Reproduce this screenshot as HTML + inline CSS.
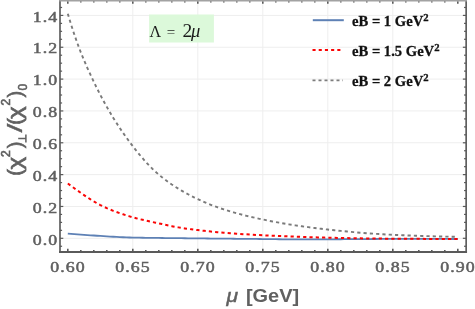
<!DOCTYPE html>
<html><head><meta charset="utf-8">
<style>
html,body{margin:0;padding:0;background:#fff;}
body{width:475px;height:309px;overflow:hidden;}
svg{display:block;will-change:transform;}
.tl text{font-family:"Liberation Serif",serif;font-size:15px;fill:#606060;stroke:#606060;stroke-width:0.5px;letter-spacing:0.9px;}
.lg text{font-family:"Liberation Serif",serif;font-weight:bold;font-size:15px;fill:#111;stroke:#111;stroke-width:0.3px;}
.ax{font-family:"Liberation Sans",sans-serif;font-weight:bold;fill:#606060;}
</style></head><body>
<svg width="475" height="309" viewBox="0 0 475 309">
<rect width="475" height="309" fill="#fff"/>
<g stroke="#eeeeee" stroke-width="1" fill="none"><line x1="132.80" y1="0.6" x2="132.80" y2="251.9"/><line x1="197.80" y1="0.6" x2="197.80" y2="251.9"/><line x1="262.80" y1="0.6" x2="262.80" y2="251.9"/><line x1="327.80" y1="0.6" x2="327.80" y2="251.9"/><line x1="392.80" y1="0.6" x2="392.80" y2="251.9"/><line x1="60.0" y1="238.30" x2="466.15" y2="238.30"/><line x1="60.0" y1="206.46" x2="466.15" y2="206.46"/><line x1="60.0" y1="174.62" x2="466.15" y2="174.62"/><line x1="60.0" y1="142.78" x2="466.15" y2="142.78"/><line x1="60.0" y1="110.94" x2="466.15" y2="110.94"/><line x1="60.0" y1="79.10" x2="466.15" y2="79.10"/><line x1="60.0" y1="47.26" x2="466.15" y2="47.26"/><line x1="60.0" y1="15.42" x2="466.15" y2="15.42"/></g>
<rect x="149.1" y="14.5" width="64.8" height="28" fill="#dcf9da"/>
<g font-family="Liberation Serif, serif" fill="#1a1a1a">
<text x="149.4" y="36.6" font-size="16px">Λ</text><text x="166.7" y="36.9" font-size="15px">=</text><text x="182.6" y="36.7" font-size="19.5px">2</text><text x="190.9" y="36.6" font-size="18.5px" font-style="italic">μ</text>
</g>
<g fill="none" stroke-linejoin="round">
<path d="M67.80,233.59 L71.05,233.86 L74.30,234.12 L77.55,234.37 L80.80,234.62 L84.05,234.86 L87.30,235.09 L90.55,235.31 L93.80,235.52 L97.05,235.73 L100.30,235.93 L103.55,236.13 L106.80,236.34 L110.05,236.54 L113.30,236.74 L116.55,236.92 L119.80,237.09 L123.05,237.24 L126.30,237.37 L129.55,237.48 L132.80,237.57 L136.05,237.64 L139.30,237.70 L142.55,237.76 L145.80,237.81 L149.05,237.85 L152.30,237.90 L155.55,237.94 L158.80,237.97 L162.05,238.01 L165.30,238.04 L168.55,238.08 L171.80,238.11 L175.05,238.15 L178.30,238.18 L181.55,238.22 L184.80,238.26 L188.05,238.30 L191.30,238.33 L194.55,238.37 L197.80,238.40 L201.05,238.44 L204.30,238.47 L207.55,238.50 L210.80,238.53 L214.05,238.57 L217.30,238.60 L220.55,238.63 L223.80,238.66 L227.05,238.69 L230.30,238.72 L233.55,238.75 L236.80,238.78 L240.05,238.81 L243.30,238.84 L246.55,238.87 L249.80,238.90 L253.05,238.93 L256.30,238.97 L259.55,239.00 L262.80,239.03 L266.05,239.07 L269.30,239.11 L272.55,239.16 L275.80,239.20 L279.05,239.25 L282.30,239.29 L285.55,239.32 L288.80,239.35 L292.05,239.37 L295.30,239.39 L298.55,239.40 L301.80,239.40 L305.05,239.40 L308.30,239.39 L311.55,239.38 L314.80,239.38 L318.05,239.36 L321.30,239.35 L324.55,239.34 L327.80,239.32 L331.05,239.30 L334.30,239.29 L337.55,239.27 L340.80,239.25 L344.05,239.22 L347.30,239.20 L350.55,239.18 L353.80,239.15 L357.05,239.13 L360.30,239.10 L363.55,239.08 L366.80,239.05 L370.05,239.03 L373.30,239.01 L376.55,238.99 L379.80,238.97 L383.05,238.95 L386.30,238.94 L389.55,238.92 L392.80,238.91 L396.05,238.91 L399.30,238.91 L402.55,238.91 L405.80,238.91 L409.05,238.91 L412.30,238.91 L415.55,238.91 L418.80,238.91 L422.05,238.91 L425.30,238.92 L428.55,238.92 L431.80,238.93 L435.05,238.93 L438.30,238.94 L441.55,238.95 L444.80,238.95 L448.05,238.96 L451.30,238.98 L454.55,238.99 L457.80,239.00" stroke="#5e81b5" stroke-width="1.8"/>
<path d="M67.80,183.54 L71.05,185.90 L74.30,188.22 L77.55,190.52 L80.80,192.82 L84.05,195.09 L87.30,197.29 L90.55,199.41 L93.80,201.42 L97.05,203.30 L100.30,205.05 L103.55,206.64 L106.80,208.12 L110.05,209.51 L113.30,210.81 L116.55,212.04 L119.80,213.21 L123.05,214.31 L126.30,215.35 L129.55,216.35 L132.80,217.30 L136.05,218.19 L139.30,219.03 L142.55,219.81 L145.80,220.56 L149.05,221.28 L152.30,221.99 L155.55,222.69 L158.80,223.38 L162.05,224.07 L165.30,224.78 L168.55,225.48 L171.80,226.15 L175.05,226.79 L178.30,227.37 L181.55,227.90 L184.80,228.40 L188.05,228.86 L191.30,229.29 L194.55,229.70 L197.80,230.10 L201.05,230.48 L204.30,230.84 L207.55,231.19 L210.80,231.52 L214.05,231.84 L217.30,232.14 L220.55,232.43 L223.80,232.71 L227.05,232.97 L230.30,233.23 L233.55,233.47 L236.80,233.71 L240.05,233.93 L243.30,234.15 L246.55,234.35 L249.80,234.55 L253.05,234.74 L256.30,234.93 L259.55,235.10 L262.80,235.28 L266.05,235.44 L269.30,235.59 L272.55,235.74 L275.80,235.88 L279.05,236.01 L282.30,236.14 L285.55,236.27 L288.80,236.39 L292.05,236.52 L295.30,236.64 L298.55,236.75 L301.80,236.87 L305.05,236.98 L308.30,237.10 L311.55,237.21 L314.80,237.32 L318.05,237.42 L321.30,237.52 L324.55,237.61 L327.80,237.70 L331.05,237.77 L334.30,237.85 L337.55,237.92 L340.80,237.99 L344.05,238.06 L347.30,238.12 L350.55,238.18 L353.80,238.24 L357.05,238.29 L360.30,238.34 L363.55,238.39 L366.80,238.43 L370.05,238.47 L373.30,238.51 L376.55,238.55 L379.80,238.58 L383.05,238.61 L386.30,238.64 L389.55,238.67 L392.80,238.70 L396.05,238.72 L399.30,238.74 L402.55,238.77 L405.80,238.79 L409.05,238.81 L412.30,238.82 L415.55,238.84 L418.80,238.86 L422.05,238.87 L425.30,238.89 L428.55,238.90 L431.80,238.92 L435.05,238.93 L438.30,238.94 L441.55,238.95 L444.80,238.96 L448.05,238.97 L451.30,238.98 L454.55,238.99 L457.80,239.00" stroke="#fa0505" stroke-width="2.0" stroke-dasharray="3.2 3.1"/>
<path d="M67.80,13.67 L71.05,24.42 L74.30,34.43 L77.55,43.73 L80.80,52.34 L84.05,60.30 L87.30,67.78 L90.55,74.92 L93.80,81.84 L97.05,88.50 L100.30,94.87 L103.55,100.98 L106.80,106.85 L110.05,112.50 L113.30,117.91 L116.55,123.11 L119.80,128.09 L123.05,132.88 L126.30,137.48 L129.55,141.91 L132.80,146.20 L136.05,150.36 L139.30,154.39 L142.55,158.24 L145.80,161.92 L149.05,165.41 L152.30,168.69 L155.55,171.76 L158.80,174.62 L162.05,177.29 L165.30,179.81 L168.55,182.20 L171.80,184.46 L175.05,186.60 L178.30,188.64 L181.55,190.59 L184.80,192.45 L188.05,194.22 L191.30,195.93 L194.55,197.56 L197.80,199.14 L201.05,200.65 L204.30,202.09 L207.55,203.47 L210.80,204.78 L214.05,206.03 L217.30,207.21 L220.55,208.34 L223.80,209.41 L227.05,210.44 L230.30,211.42 L233.55,212.37 L236.80,213.27 L240.05,214.15 L243.30,214.99 L246.55,215.80 L249.80,216.59 L253.05,217.35 L256.30,218.09 L259.55,218.81 L262.80,219.51 L266.05,220.19 L269.30,220.85 L272.55,221.48 L275.80,222.09 L279.05,222.68 L282.30,223.25 L285.55,223.79 L288.80,224.33 L292.05,224.84 L295.30,225.34 L298.55,225.82 L301.80,226.29 L305.05,226.74 L308.30,227.18 L311.55,227.60 L314.80,228.01 L318.05,228.41 L321.30,228.80 L324.55,229.18 L327.80,229.54 L331.05,229.90 L334.30,230.25 L337.55,230.59 L340.80,230.93 L344.05,231.25 L347.30,231.57 L350.55,231.87 L353.80,232.16 L357.05,232.45 L360.30,232.72 L363.55,232.98 L366.80,233.22 L370.05,233.46 L373.30,233.68 L376.55,233.90 L379.80,234.10 L383.05,234.29 L386.30,234.47 L389.55,234.64 L392.80,234.80 L396.05,234.95 L399.30,235.09 L402.55,235.23 L405.80,235.36 L409.05,235.49 L412.30,235.61 L415.55,235.73 L418.80,235.84 L422.05,235.95 L425.30,236.05 L428.55,236.15 L431.80,236.24 L435.05,236.33 L438.30,236.42 L441.55,236.50 L444.80,236.58 L448.05,236.66 L451.30,236.73 L454.55,236.80 L457.80,236.87" stroke="#7a7a7a" stroke-width="1.9" stroke-dasharray="3.2 3.1"/>
</g>
<g stroke="#5a5a5a" stroke-width="1.2" fill="none"><line x1="60.0" y1="246.26" x2="62.10" y2="246.26"/><line x1="466.15" y1="246.26" x2="464.05" y2="246.26"/><line x1="60.0" y1="238.30" x2="63.30" y2="238.30"/><line x1="466.15" y1="238.30" x2="462.85" y2="238.30"/><line x1="60.0" y1="230.34" x2="62.10" y2="230.34"/><line x1="466.15" y1="230.34" x2="464.05" y2="230.34"/><line x1="60.0" y1="222.38" x2="62.10" y2="222.38"/><line x1="466.15" y1="222.38" x2="464.05" y2="222.38"/><line x1="60.0" y1="214.42" x2="62.10" y2="214.42"/><line x1="466.15" y1="214.42" x2="464.05" y2="214.42"/><line x1="60.0" y1="206.46" x2="63.30" y2="206.46"/><line x1="466.15" y1="206.46" x2="462.85" y2="206.46"/><line x1="60.0" y1="198.50" x2="62.10" y2="198.50"/><line x1="466.15" y1="198.50" x2="464.05" y2="198.50"/><line x1="60.0" y1="190.54" x2="62.10" y2="190.54"/><line x1="466.15" y1="190.54" x2="464.05" y2="190.54"/><line x1="60.0" y1="182.58" x2="62.10" y2="182.58"/><line x1="466.15" y1="182.58" x2="464.05" y2="182.58"/><line x1="60.0" y1="174.62" x2="63.30" y2="174.62"/><line x1="466.15" y1="174.62" x2="462.85" y2="174.62"/><line x1="60.0" y1="166.66" x2="62.10" y2="166.66"/><line x1="466.15" y1="166.66" x2="464.05" y2="166.66"/><line x1="60.0" y1="158.70" x2="62.10" y2="158.70"/><line x1="466.15" y1="158.70" x2="464.05" y2="158.70"/><line x1="60.0" y1="150.74" x2="62.10" y2="150.74"/><line x1="466.15" y1="150.74" x2="464.05" y2="150.74"/><line x1="60.0" y1="142.78" x2="63.30" y2="142.78"/><line x1="466.15" y1="142.78" x2="462.85" y2="142.78"/><line x1="60.0" y1="134.82" x2="62.10" y2="134.82"/><line x1="466.15" y1="134.82" x2="464.05" y2="134.82"/><line x1="60.0" y1="126.86" x2="62.10" y2="126.86"/><line x1="466.15" y1="126.86" x2="464.05" y2="126.86"/><line x1="60.0" y1="118.90" x2="62.10" y2="118.90"/><line x1="466.15" y1="118.90" x2="464.05" y2="118.90"/><line x1="60.0" y1="110.94" x2="63.30" y2="110.94"/><line x1="466.15" y1="110.94" x2="462.85" y2="110.94"/><line x1="60.0" y1="102.98" x2="62.10" y2="102.98"/><line x1="466.15" y1="102.98" x2="464.05" y2="102.98"/><line x1="60.0" y1="95.02" x2="62.10" y2="95.02"/><line x1="466.15" y1="95.02" x2="464.05" y2="95.02"/><line x1="60.0" y1="87.06" x2="62.10" y2="87.06"/><line x1="466.15" y1="87.06" x2="464.05" y2="87.06"/><line x1="60.0" y1="79.10" x2="63.30" y2="79.10"/><line x1="466.15" y1="79.10" x2="462.85" y2="79.10"/><line x1="60.0" y1="71.14" x2="62.10" y2="71.14"/><line x1="466.15" y1="71.14" x2="464.05" y2="71.14"/><line x1="60.0" y1="63.18" x2="62.10" y2="63.18"/><line x1="466.15" y1="63.18" x2="464.05" y2="63.18"/><line x1="60.0" y1="55.22" x2="62.10" y2="55.22"/><line x1="466.15" y1="55.22" x2="464.05" y2="55.22"/><line x1="60.0" y1="47.26" x2="63.30" y2="47.26"/><line x1="466.15" y1="47.26" x2="462.85" y2="47.26"/><line x1="60.0" y1="39.30" x2="62.10" y2="39.30"/><line x1="466.15" y1="39.30" x2="464.05" y2="39.30"/><line x1="60.0" y1="31.34" x2="62.10" y2="31.34"/><line x1="466.15" y1="31.34" x2="464.05" y2="31.34"/><line x1="60.0" y1="23.38" x2="62.10" y2="23.38"/><line x1="466.15" y1="23.38" x2="464.05" y2="23.38"/><line x1="60.0" y1="15.42" x2="63.30" y2="15.42"/><line x1="466.15" y1="15.42" x2="462.85" y2="15.42"/><line x1="60.0" y1="7.46" x2="62.10" y2="7.46"/><line x1="466.15" y1="7.46" x2="464.05" y2="7.46"/></g>
<g stroke="#5a5a5a" stroke-width="1.6" fill="none"><line x1="67.80" y1="251.9" x2="67.80" y2="248.70"/><line x1="67.80" y1="1.3" x2="67.80" y2="3.80"/><line x1="80.80" y1="251.9" x2="80.80" y2="250.00"/><line x1="80.80" y1="1.3" x2="80.80" y2="2.50"/><line x1="93.80" y1="251.9" x2="93.80" y2="250.00"/><line x1="93.80" y1="1.3" x2="93.80" y2="2.50"/><line x1="106.80" y1="251.9" x2="106.80" y2="250.00"/><line x1="106.80" y1="1.3" x2="106.80" y2="2.50"/><line x1="119.80" y1="251.9" x2="119.80" y2="250.00"/><line x1="119.80" y1="1.3" x2="119.80" y2="2.50"/><line x1="132.80" y1="251.9" x2="132.80" y2="248.70"/><line x1="132.80" y1="1.3" x2="132.80" y2="3.80"/><line x1="145.80" y1="251.9" x2="145.80" y2="250.00"/><line x1="145.80" y1="1.3" x2="145.80" y2="2.50"/><line x1="158.80" y1="251.9" x2="158.80" y2="250.00"/><line x1="158.80" y1="1.3" x2="158.80" y2="2.50"/><line x1="171.80" y1="251.9" x2="171.80" y2="250.00"/><line x1="171.80" y1="1.3" x2="171.80" y2="2.50"/><line x1="184.80" y1="251.9" x2="184.80" y2="250.00"/><line x1="184.80" y1="1.3" x2="184.80" y2="2.50"/><line x1="197.80" y1="251.9" x2="197.80" y2="248.70"/><line x1="197.80" y1="1.3" x2="197.80" y2="3.80"/><line x1="210.80" y1="251.9" x2="210.80" y2="250.00"/><line x1="210.80" y1="1.3" x2="210.80" y2="2.50"/><line x1="223.80" y1="251.9" x2="223.80" y2="250.00"/><line x1="223.80" y1="1.3" x2="223.80" y2="2.50"/><line x1="236.80" y1="251.9" x2="236.80" y2="250.00"/><line x1="236.80" y1="1.3" x2="236.80" y2="2.50"/><line x1="249.80" y1="251.9" x2="249.80" y2="250.00"/><line x1="249.80" y1="1.3" x2="249.80" y2="2.50"/><line x1="262.80" y1="251.9" x2="262.80" y2="248.70"/><line x1="262.80" y1="1.3" x2="262.80" y2="3.80"/><line x1="275.80" y1="251.9" x2="275.80" y2="250.00"/><line x1="275.80" y1="1.3" x2="275.80" y2="2.50"/><line x1="288.80" y1="251.9" x2="288.80" y2="250.00"/><line x1="288.80" y1="1.3" x2="288.80" y2="2.50"/><line x1="301.80" y1="251.9" x2="301.80" y2="250.00"/><line x1="301.80" y1="1.3" x2="301.80" y2="2.50"/><line x1="314.80" y1="251.9" x2="314.80" y2="250.00"/><line x1="314.80" y1="1.3" x2="314.80" y2="2.50"/><line x1="327.80" y1="251.9" x2="327.80" y2="248.70"/><line x1="327.80" y1="1.3" x2="327.80" y2="3.80"/><line x1="340.80" y1="251.9" x2="340.80" y2="250.00"/><line x1="340.80" y1="1.3" x2="340.80" y2="2.50"/><line x1="353.80" y1="251.9" x2="353.80" y2="250.00"/><line x1="353.80" y1="1.3" x2="353.80" y2="2.50"/><line x1="366.80" y1="251.9" x2="366.80" y2="250.00"/><line x1="366.80" y1="1.3" x2="366.80" y2="2.50"/><line x1="379.80" y1="251.9" x2="379.80" y2="250.00"/><line x1="379.80" y1="1.3" x2="379.80" y2="2.50"/><line x1="392.80" y1="251.9" x2="392.80" y2="248.70"/><line x1="392.80" y1="1.3" x2="392.80" y2="3.80"/><line x1="405.80" y1="251.9" x2="405.80" y2="250.00"/><line x1="405.80" y1="1.3" x2="405.80" y2="2.50"/><line x1="418.80" y1="251.9" x2="418.80" y2="250.00"/><line x1="418.80" y1="1.3" x2="418.80" y2="2.50"/><line x1="431.80" y1="251.9" x2="431.80" y2="250.00"/><line x1="431.80" y1="1.3" x2="431.80" y2="2.50"/><line x1="444.80" y1="251.9" x2="444.80" y2="250.00"/><line x1="444.80" y1="1.3" x2="444.80" y2="2.50"/><line x1="457.80" y1="251.9" x2="457.80" y2="248.70"/><line x1="457.80" y1="1.3" x2="457.80" y2="3.80"/></g>
<g stroke="#5a5a5a" stroke-width="1.65" fill="none"><line x1="60.0" y1="0" x2="60.0" y2="252.9"/><line x1="466.15" y1="0" x2="466.15" y2="252.9"/><line x1="59.1" y1="251.9" x2="467.04999999999995" y2="251.9" stroke-width="2.05"/><line x1="59.15" y1="0.7" x2="467.0" y2="0.7" stroke="#a2a2a2" stroke-width="1.4"/></g>
<g class="tl"><g transform="translate(58.2,244.50) scale(1.19,1)"><text x="0" y="0" text-anchor="end">0.0</text></g><g transform="translate(58.2,212.66) scale(1.19,1)"><text x="0" y="0" text-anchor="end">0.2</text></g><g transform="translate(58.2,180.82) scale(1.19,1)"><text x="0" y="0" text-anchor="end">0.4</text></g><g transform="translate(58.2,148.98) scale(1.19,1)"><text x="0" y="0" text-anchor="end">0.6</text></g><g transform="translate(58.2,117.14) scale(1.19,1)"><text x="0" y="0" text-anchor="end">0.8</text></g><g transform="translate(58.2,85.30) scale(1.19,1)"><text x="0" y="0" text-anchor="end">1.0</text></g><g transform="translate(58.2,53.46) scale(1.19,1)"><text x="0" y="0" text-anchor="end">1.2</text></g><g transform="translate(58.2,21.62) scale(1.19,1)"><text x="0" y="0" text-anchor="end">1.4</text></g><g transform="translate(68.10,272.4) scale(1.19,1)"><text x="0" y="0" text-anchor="middle">0.60</text></g><g transform="translate(133.10,272.4) scale(1.19,1)"><text x="0" y="0" text-anchor="middle">0.65</text></g><g transform="translate(198.10,272.4) scale(1.19,1)"><text x="0" y="0" text-anchor="middle">0.70</text></g><g transform="translate(263.10,272.4) scale(1.19,1)"><text x="0" y="0" text-anchor="middle">0.75</text></g><g transform="translate(328.10,272.4) scale(1.19,1)"><text x="0" y="0" text-anchor="middle">0.80</text></g><g transform="translate(393.10,272.4) scale(1.19,1)"><text x="0" y="0" text-anchor="middle">0.85</text></g><g transform="translate(458.10,272.4) scale(1.19,1)"><text x="0" y="0" text-anchor="middle">0.90</text></g></g>
<g class="lg">
<line x1="312.8" y1="20.2" x2="343.8" y2="20.2" stroke="#5e81b5" stroke-width="2"/>
<line x1="312.5" y1="50.1" x2="343" y2="50.1" stroke="#fa0505" stroke-width="2" stroke-dasharray="3.1 3.1"/>
<line x1="312.5" y1="80.4" x2="343" y2="80.4" stroke="#7d7d7d" stroke-width="1.9" stroke-dasharray="3 3"/>
<g transform="translate(352.0,26.0) scale(0.975,1)"><text x="0" y="0">eB = 1 GeV<tspan dy="-5.4" font-size="11px">2</tspan></text></g>
<g transform="translate(352.0,56.0) scale(0.975,1)"><text x="0" y="0">eB = 1.5 GeV<tspan dy="-5.4" font-size="11px">2</tspan></text></g>
<g transform="translate(352.0,86.0) scale(0.975,1)"><text x="0" y="0">eB = 2 GeV<tspan dy="-5.4" font-size="11px">2</tspan></text></g>
</g>
<g transform="translate(226.4,301.8) scale(1.14,1)"><text class="ax" x="0" y="0" font-size="18.5px" font-style="italic" style="font-weight:normal;stroke:#606060;stroke-width:0.45px">μ</text></g>
<g transform="translate(245.9,301.8) scale(1.11,1)"><text class="ax" x="0" y="0" font-size="18px">[GeV]</text></g>
<g transform="translate(21.7,174.8) rotate(-90)" class="ax" font-size="20px" style="font-weight:normal;stroke:#606060;stroke-width:0.6px">
<text x="-1" y="0">(</text>
<g transform="translate(5.2,0) scale(1.2,1)"><text x="0" y="0">χ</text></g>
<text x="17.8" y="-12" font-size="12px">2</text>
<text x="26.6" y="0">)</text>
<path d="M32.3,4.2 H40.4 M36.35,4.2 V-3.5" stroke="#606060" stroke-width="1.5" fill="none" style="stroke-width:1.5px"/>
<g transform="translate(42.2,0) scale(1.6,0.97)"><text x="0" y="0" style="stroke-width:0.3px">/</text></g>
<text x="50.1" y="0">(</text>
<g transform="translate(55.7,0) scale(1.2,1)"><text x="0" y="0">χ</text></g>
<text x="69.2" y="-12" font-size="12px">2</text>
<text x="77.2" y="0">)</text>
<text x="84.4" y="5" font-size="12px">0</text>
</g>
</svg>
</body></html>
